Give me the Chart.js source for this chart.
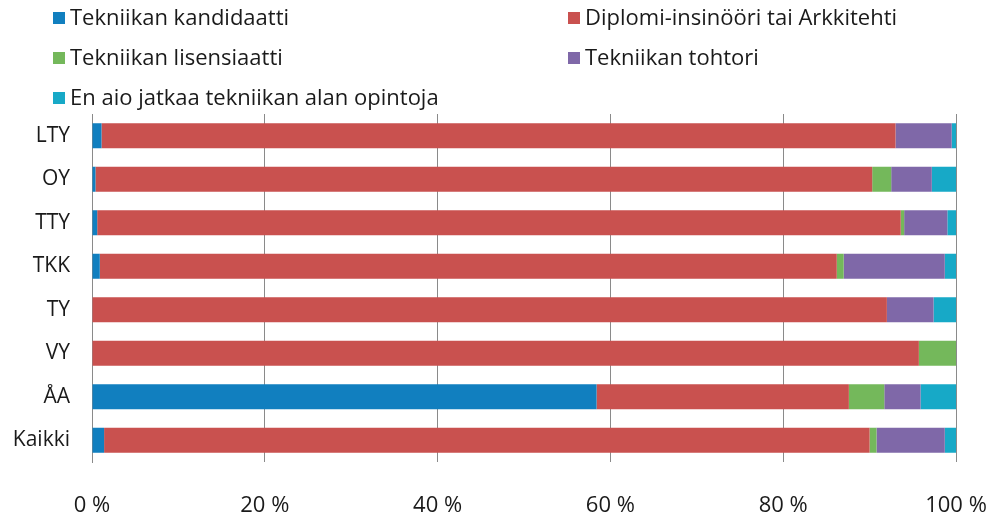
<!DOCTYPE html>
<html>
<head>
<meta charset="utf-8">
<script src="https://cdn.jsdelivr.net/npm/chart.js@4"></script>
<style>
  html, body { margin: 0; padding: 0; background: #fff; }
  #wrap { width: 995px; height: 516px; }
</style>
</head>
<body>
<div id="wrap"><canvas id="chart" width="995" height="516"></canvas></div>
<script>
const categories = ['LTY', 'OY', 'TTY', 'TKK', 'TY', 'VY', 'ÅA', 'Kaikki'];
const seriesNames = [
  'Tekniikan kandidaatti',
  'Diplomi-insinööri tai Arkkitehti',
  'Tekniikan lisensiaatti',
  'Tekniikan tohtori',
  'En aio jatkaa tekniikan alan opintoja'
];
const kandidaatti = [1.1, 0.4, 0.6, 0.9, 0, 0, 58.4, 1.4];
const diplomi     = [91.9, 89.9, 93.0, 85.3, 92.0, 95.7, 29.2, 88.6];
const lisensiaatti = [0, 2.2, 0.4, 0.8, 0, 4.3, 4.1, 0.8];
const tohtori     = [6.5, 4.7, 5.0, 11.7, 5.4, 0, 4.2, 7.9];
const eiJatka     = [0.5, 2.8, 1.0, 1.3, 2.6, 0, 4.1, 1.3];
const xTicks = [0, 20, 40, 60, 80, 100];

const colors = ['#117fbf', '#c9514f', '#74b85b', '#7f68a8', '#17a9c7'];
const FONT = "'Open Sans', sans-serif";

const seriesValues = [kandidaatti, diplomi, lisensiaatti, tohtori, eiJatka];

// legend drawn by hand: two columns, three rows
const legendPlugin = {
  id: 'twoColLegend',
  afterDraw(chart) {
    const ctx = chart.ctx;
    const cols = [53, 568];
    const rows = [18, 58, 98];
    ctx.save();
    ctx.font = '22px ' + FONT;
    ctx.textBaseline = 'middle';
    chart.data.datasets.forEach((ds, i) => {
      const x = cols[i % 2];
      const y = rows[Math.floor(i / 2)];
      ctx.fillStyle = ds.backgroundColor;
      ctx.fillRect(x, y - 6, 12, 12);
      ctx.fillStyle = '#1a1a1a';
      ctx.fillText(ds.label, x + 17, y + 1);
    });
    ctx.restore();
  }
};

new Chart(document.getElementById('chart').getContext('2d'), {
  type: 'bar',
  data: {
    labels: categories,
    datasets: seriesNames.map((name, i) => ({
      label: name,
      data: seriesValues[i],
      backgroundColor: colors[i],
      borderWidth: 0,
      categoryPercentage: 1,
      barPercentage: 0.575
    }))
  },
  options: {
    indexAxis: 'y',
    responsive: false,
    animation: false,
    layout: { padding: { top: 114, right: 39, left: 0, bottom: 0 } },
    plugins: {
      legend: { display: false },
      tooltip: { enabled: false }
    },
    scales: {
      x: {
        stacked: true,
        min: 0,
        max: 100,
        afterBuildTicks: scale => { scale.ticks = xTicks.map(v => ({ value: v })); },
        afterFit: scale => {
          scale.height = 54;
          scale.paddingLeft = 0;
          scale.paddingRight = 0;
        },
        grid: { color: '#8a8a8a', lineWidth: 1, drawTicks: false },
        border: { display: false },
        ticks: {
          padding: 31,
          color: '#1a1a1a',
          font: { family: FONT, size: 22 },
          callback: v => v + ' %'
        }
      },
      y: {
        stacked: true,
        afterFit: scale => { scale.width = 92; },
        grid: { display: false, drawTicks: false },
        border: { display: true, color: '#8a8a8a', width: 1 },
        ticks: {
          padding: 22,
          color: '#1a1a1a',
          font: { family: FONT, size: 21 }
        }
      }
    }
  },
  plugins: [legendPlugin]
});
</script>
</body>
</html>
